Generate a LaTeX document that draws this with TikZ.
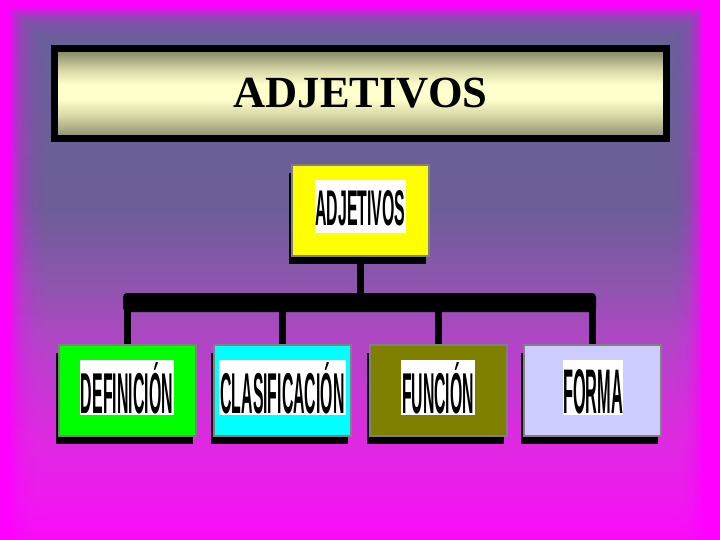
\documentclass[tikz,border=0pt]{standalone}
\usepackage{fontspec}
\setmainfont{Liberation Serif}
\newfontfamily\labfont{Liberation Sans}
\usetikzlibrary{shadows}
\definecolor{mag}{HTML}{FF00FF}
\definecolor{bgA}{HTML}{FF08FF}
\definecolor{bgB}{HTML}{F01EF0}
\definecolor{bgC}{HTML}{DD30E0}
\definecolor{bgD}{HTML}{B548CA}
\definecolor{bgE}{HTML}{8E5AB0}
\definecolor{bgF}{HTML}{6C6498}
\definecolor{bgG}{HTML}{666699}
\definecolor{tdark}{HTML}{7D7D60}
\definecolor{tdarkb}{HTML}{8A8A6C}
\definecolor{tmid}{HTML}{D8D8A8}
\definecolor{tlight}{HTML}{FFFFCC}
\definecolor{boxgray}{HTML}{808080}
\definecolor{lav}{HTML}{CCCCFF}
\definecolor{oliv}{HTML}{808000}
\definecolor{yel}{HTML}{FFFF00}
\definecolor{grn}{HTML}{00FF00}
\definecolor{cyn}{HTML}{00FFFF}
\pgfdeclareverticalshading{bgshade}{100bp}{color(0bp)=(bgA); color(25bp)=(bgA); color(30.5bp)=(bgB); color(37bp)=(bgC); color(45bp)=(bgD); color(51bp)=(bgE); color(58bp)=(bgF); color(75bp)=(bgG); color(100bp)=(bgG)}
\pgfdeclareverticalshading{titleshade}{100bp}{color(0bp)=(tdarkb); color(25bp)=(tdarkb); color(38bp)=(tmid); color(47bp)=(tlight); color(55bp)=(tlight); color(63bp)=(tmid); color(75bp)=(tdark); color(100bp)=(tdark)}
\begin{document}
\begin{tikzpicture}[x=1pt,y=-1pt,
  titlebox/.style={draw=black, line width=7pt, shade, shading=titleshade, minimum width=612pt, minimum height=90pt, inner sep=0pt, font=\bfseries\fontsize{44.5}{48}\selectfont},
  boxst/.style={draw=boxgray, line width=2pt, minimum width=137pt, minimum height=91pt, inner sep=0pt, drop shadow={shadow xshift=-3pt, shadow yshift=-8pt, fill=black, opacity=1}},
  labst/.style={fill=white, inner sep=0pt, anchor=base, text height=53pt, text depth=2pt},
  conn/.style={line width=7pt, black}]
\useasboundingbox (0,0) rectangle (720,540);
\fill[mag] (0,0) rectangle (720,540);
\foreach \i in {0,...,19} {
  \shade[shading=bgshade, opacity=0.16] ({10+2*\i},{8+1.8*\i}) rectangle ({702-1.6*\i},560);
}
% title
\node[titlebox] (title) at (360.5,93.5) {ADJETIVOS};
% connector bar
\node[fill=black, rounded corners=4pt, minimum width=473pt, minimum height=19pt, inner sep=0pt] (bar) at (359.5,302.5) {};
% boxes
\node[boxst, fill=yel] (adj) at (360.5,210.5) {};
\node[boxst, fill=grn] (bdef) at (127.5,390) {};
\node[boxst, fill=cyn] (bcla) at (282,390) {};
\node[boxst, fill=oliv] (bfun) at (438,390) {};
\node[boxst, fill=lav] (bfor) at (592.5,390) {};
% connectors
\draw[conn] (adj.south) -- (adj.south |- bar.center);
\foreach \nm in {bdef,bcla,bfun,bfor} {
  \draw[conn] (\nm.north) -- (\nm.north |- bar.center);
}
% labels
\node[labst, minimum width=91pt, text height=45pt, text depth=8pt] (ladj) at (360.5,225) {\resizebox{90pt}{35pt}{\labfont\bfseries ADJETIVOS}};
\node[labst, minimum width=94pt] (ldef) at (127,413) {\resizebox{92pt}{51pt}{\labfont\bfseries DEFINICIÓN}};
\node[labst, minimum width=127pt] (lcla) at (282.5,413) {\resizebox{124pt}{51pt}{\labfont\bfseries CLASIFICACIÓN}};
\node[labst, minimum width=74pt] (lfun) at (438,413) {\resizebox{72pt}{51pt}{\labfont\bfseries FUNCIÓN}};
\node[labst, minimum width=60pt] (lfor) at (593,413) {\resizebox{60pt}{44pt}{\labfont\bfseries FORMA}};
\end{tikzpicture}
\end{document}
